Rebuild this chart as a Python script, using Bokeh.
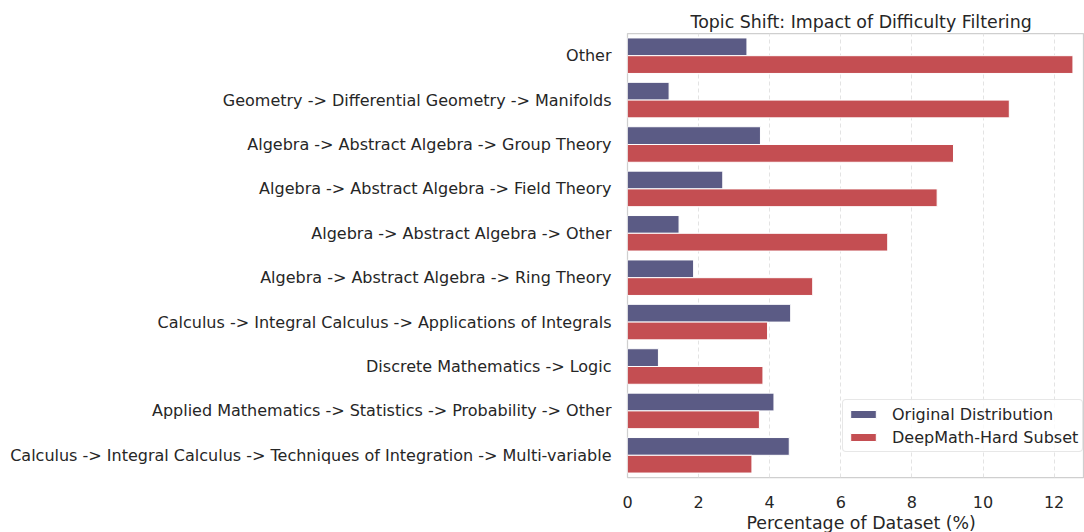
from bokeh.plotting import figure
from bokeh.models import ColumnDataSource, FactorRange, Range1d, Title, Legend, LegendItem, FixedTicker
from bokeh.transform import dodge
from bokeh.embed import file_html
from bokeh.resources import INLINE

categories = [
    "Other",
    "Geometry -> Differential Geometry -> Manifolds",
    "Algebra -> Abstract Algebra -> Group Theory",
    "Algebra -> Abstract Algebra -> Field Theory",
    "Algebra -> Abstract Algebra -> Other",
    "Algebra -> Abstract Algebra -> Ring Theory",
    "Calculus -> Integral Calculus -> Applications of Integrals",
    "Discrete Mathematics -> Logic",
    "Applied Mathematics -> Statistics -> Probability -> Other",
    "Calculus -> Integral Calculus -> Techniques of Integration -> Multi-variable",
]
original = [3.36, 1.17, 3.74, 2.68, 1.45, 1.86, 4.59, 0.87, 4.12, 4.55]
hard = [12.53, 10.74, 9.17, 8.71, 7.32, 5.21, 3.94, 3.81, 3.71, 3.50]
x_ticks = [0, 2, 4, 6, 8, 10, 12]

FONT = "DejaVu Sans"
TXT = "#262626"
C_ORIG = "#5b5b85"
C_HARD = "#c44e52"

src = ColumnDataSource(dict(cat=categories, orig=original, hard=hard))

p = figure(
    width=1084, height=532,
    y_range=FactorRange(factors=list(reversed(categories)), range_padding=0),
    x_range=Range1d(0, 12.855),
    output_backend="svg", toolbar_location=None,
    min_border_left=627, min_border_right=0, min_border_top=33, min_border_bottom=50,
)

r1 = p.hbar(y=dodge("cat", 0.2, range=p.y_range), right="orig", left=0, height=0.4,
            source=src, fill_color=C_ORIG, line_color="white", line_width=1)
r2 = p.hbar(y=dodge("cat", -0.2, range=p.y_range), right="hard", left=0, height=0.4,
            source=src, fill_color=C_HARD, line_color="white", line_width=1)

# title
p.title.text = "Topic Shift: Impact of Difficulty Filtering"
p.title.text_font = FONT
p.title.text_font_size = "17.4px"
p.title.text_font_style = "normal"
p.title.text_color = TXT
p.title.align = "left"
p.title.offset = 63
p.title.standoff = 4

# axes
xa = p.xaxis[0]
xa.ticker = FixedTicker(ticks=x_ticks)
xa.major_label_text_font = FONT
xa.major_label_text_font_size = "16px"
xa.major_label_text_color = TXT
xa.major_tick_line_color = None
xa.minor_tick_line_color = None
xa.axis_line_color = None
xa.major_label_standoff = 12

ya = p.yaxis[0]
ya.major_label_text_font = FONT
ya.major_label_text_font_size = "16px"
ya.major_label_text_color = TXT
ya.major_tick_line_color = None
ya.minor_tick_line_color = None
ya.axis_line_color = None
ya.major_label_standoff = 10

p.add_layout(Title(text="Percentage of Dataset (%)", align="left", offset=119,
                   text_font=FONT, text_font_size="17.4px", text_font_style="normal",
                   text_color=TXT, standoff=0), "below")

# grid and frame
p.ygrid.grid_line_color = None
p.xgrid.grid_line_color = "#e3e3e3"
p.xgrid.grid_line_dash = "4 3"
p.xgrid.grid_line_width = 1
p.xgrid.ticker = FixedTicker(ticks=x_ticks)
p.outline_line_color = "#cfcfcf"
p.outline_line_width = 1.25
p.background_fill_color = "white"
p.border_fill_color = "white"

legend = Legend(
    items=[LegendItem(label="Original Distribution", renderers=[r1]),
           LegendItem(label="DeepMath-Hard Subset", renderers=[r2])],
    location=(215, 25),
    label_text_font=FONT, label_text_font_size="16px", label_text_color=TXT,
    glyph_width=32, glyph_height=10, label_height=20, spacing=3,
    padding=4, margin=0, label_standoff=13,
    border_line_color="#d0d0d0", border_line_width=1, border_radius=4,
    background_fill_color="white", background_fill_alpha=0.8,
)
p.add_layout(legend)

open("out.html", "w").write(file_html(p, INLINE))
